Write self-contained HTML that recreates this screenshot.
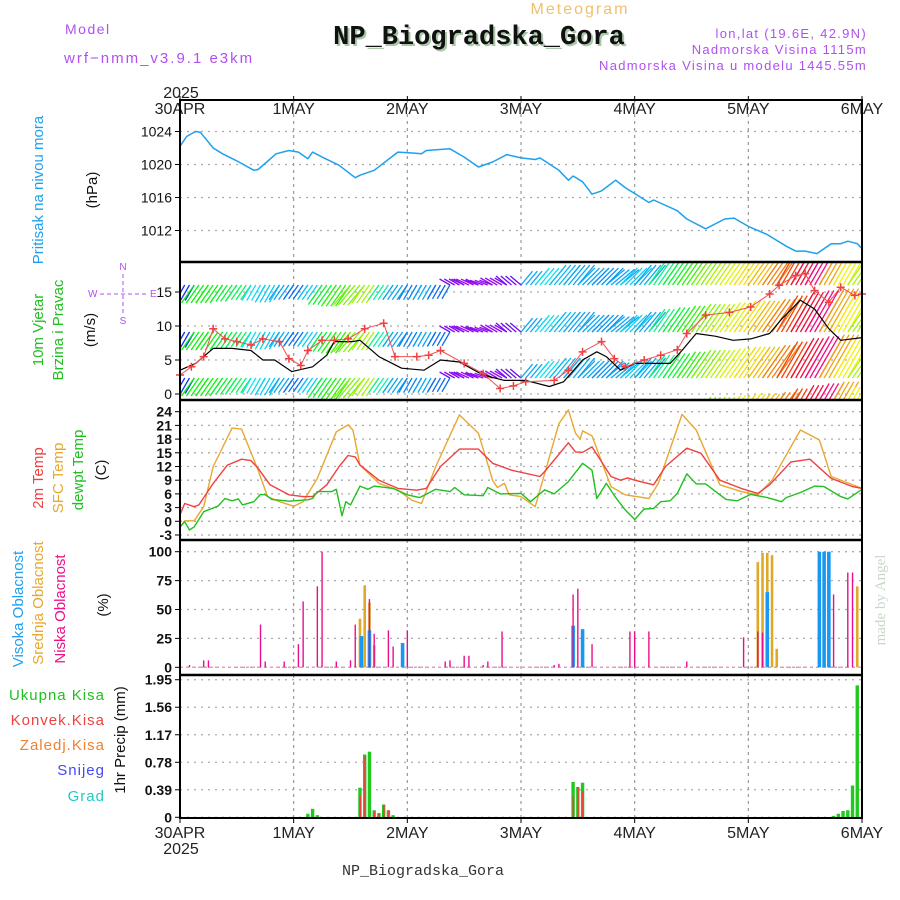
<!DOCTYPE html>
<html><head><meta charset="utf-8"><style>
body{margin:0;background:#fff;}
svg{display:block;font-family:"Liberation Sans",sans-serif;}
</style></head><body>
<svg id="chart" width="900" height="900" viewBox="0 0 900 900" xmlns="http://www.w3.org/2000/svg">
<rect x="0" y="0" width="900" height="900" fill="#fff"/>
<text x="65" y="34" font-size="14" fill="#b050f0" letter-spacing="1.5">Model</text>
<text x="64" y="63" font-size="15" fill="#b050f0" letter-spacing="2">wrf−nmm_v3.9.1 e3km</text>
<text x="580" y="14" font-size="16" fill="#f0c070" text-anchor="middle" letter-spacing="2">Meteogram</text>
<text x="481" y="46" font-size="27" font-weight="bold" fill="#a8c8a8" text-anchor="middle" font-family="Liberation Mono, monospace">NP_Biogradska_Gora</text>
<text x="479" y="44" font-size="27" font-weight="bold" fill="#111" text-anchor="middle" font-family="Liberation Mono, monospace">NP_Biogradska_Gora</text>
<text x="867" y="38" font-size="13" fill="#b050f0" text-anchor="end" letter-spacing="1.3">lon,lat (19.6E, 42.9N)</text>
<text x="867" y="54" font-size="13" fill="#b050f0" text-anchor="end" letter-spacing="1.3">Nadmorska Visina 1115m</text>
<text x="867" y="70" font-size="13" fill="#b050f0" text-anchor="end" letter-spacing="1.3">Nadmorska Visina u modelu 1445.55m</text>
<text x="423" y="875" font-size="15" fill="#333" text-anchor="middle" font-family="Liberation Mono, monospace">NP_Biogradska_Gora</text>
<text transform="translate(885,600) rotate(-90)" font-size="15" fill="#c8d8c8" text-anchor="middle" font-family="Liberation Serif, serif">made by Angel</text>

<text transform="translate(43,190) rotate(-90)" font-size="15" fill="#20a0f0" text-anchor="middle">Pritisak na nivou mora</text>
<text transform="translate(97,190) rotate(-90)" font-size="15" fill="#111" text-anchor="middle">(hPa)</text>
<text transform="translate(43,330) rotate(-90)" font-size="15" fill="#20c020" text-anchor="middle">10m Vjetar</text>
<text transform="translate(63,330) rotate(-90)" font-size="15" fill="#20c020" text-anchor="middle">Brzina i Pravac</text>
<text transform="translate(95,330) rotate(-90)" font-size="15" fill="#111" text-anchor="middle">(m/s)</text>
<g fill="#b050f0" font-size="10" stroke="none">
<text x="123" y="270" text-anchor="middle">N</text>
<text x="88" y="297">W</text>
<text x="150" y="297">E</text>
<text x="123" y="324" text-anchor="middle">S</text>
<line x1="100" y1="294" x2="146" y2="294" stroke="#b050f0" stroke-dasharray="4,3"/>
<line x1="123" y1="274" x2="123" y2="314" stroke="#b050f0" stroke-dasharray="4,3"/>
</g>
<text transform="translate(43,478) rotate(-90)" font-size="15" fill="#f04040" text-anchor="middle">2m Temp</text>
<text transform="translate(63,478) rotate(-90)" font-size="15" fill="#e8a830" text-anchor="middle">SFC Temp</text>
<text transform="translate(83,470) rotate(-90)" font-size="15" fill="#20c020" text-anchor="middle">dewpt Temp</text>
<text transform="translate(106,470) rotate(-90)" font-size="15" fill="#111" text-anchor="middle">(C)</text>
<text transform="translate(23,609) rotate(-90)" font-size="15" fill="#20a0f0" text-anchor="middle">Visoka Oblacnost</text>
<text transform="translate(43,603) rotate(-90)" font-size="15" fill="#e8a830" text-anchor="middle">Srednja Oblacnost</text>
<text transform="translate(65,609) rotate(-90)" font-size="15" fill="#f0108a" text-anchor="middle">Niska Oblacnost</text>
<text transform="translate(108,605) rotate(-90)" font-size="15" fill="#111" text-anchor="middle">(%)</text>
<g font-size="15" text-anchor="end" letter-spacing="1">
<text x="105" y="700" fill="#20c020">Ukupna  Kisa</text>
<text x="105" y="725" fill="#f04040">Konvek.Kisa</text>
<text x="105" y="750" fill="#f08030">Zaledj.Kisa</text>
<text x="105" y="775" fill="#4848f0">Snijeg</text>
<text x="105" y="801" fill="#20c8c8">Grad</text>
</g>
<text transform="translate(125,740) rotate(-90)" font-size="15" fill="#111" text-anchor="middle">1hr Precip (mm)</text>
<g id="plot"></g>
</svg>
<script>
// ---------- data ----------
const dayLabels = ["30APR","1MAY","2MAY","3MAY","4MAY","5MAY","6MAY"];
const presTicks = [1024,1020,1016,1012];
const windTicks = [0,5,10,15];
const tempTicks = [24,21,18,15,12,9,6,3,0,-3];
const cloudTicks = [100,75,50,25,0];
const precipTicks = ["1.95","1.56","1.17","0.78","0.39","0"];

const presHours = [0,1.4,3.3,4.3,7,9,11.8,15.6,16.5,20.3,23,25,27,28,30,33.6,37,38,41,46,49,51,52,57,60,63,66,69,72,75,76,80,82,83,85,87,89,92,94,99,100,105,107,111,115,117,120,124,128,130,132,134.5,137.5,139.5,141,143,144];
const presVals = [1022.2,1023.4,1024,1023.9,1022,1021.3,1020.5,1019.3,1019.4,1021.3,1021.7,1021.5,1020.7,1021.5,1020.9,1019.9,1018.4,1018.7,1019.3,1021.5,1021.4,1021.3,1021.7,1021.9,1020.9,1019.7,1020.3,1021.2,1020.8,1020.6,1020.8,1019.3,1018.1,1018.6,1017.9,1016.4,1016.8,1018.1,1017.2,1015.4,1015.7,1014.4,1013.4,1012.2,1013.4,1013.5,1012.5,1011.5,1010.1,1009.5,1009.5,1009.2,1010.4,1010.4,1010.7,1010.4,1009.8];

const gustHours = [0,2.4,5,7,9.5,12,15,17.5,21,23,25.5,27,30,32.6,35.5,39,43,45.4,50,52.5,55,60,64,67.6,70.4,73,79,82,85,89,91.7,94,98,101.5,105,107,111,116,120.5,124.5,126.5,130,132,134,137,139.5,142.5,144];
const gustVals = [2.8,4,5.5,9.6,8.1,7.7,7.2,8.1,7.7,5.2,4.2,6.4,7.9,7.9,8.1,9.6,10.4,5.5,5.5,5.7,6.4,4.5,3,0.8,1.2,1.8,2,3.5,6.2,7.7,5.2,4,5,5.7,6.5,8.9,11.6,12,12.8,14.7,16,17.4,17.7,15.2,13.5,15.7,14.5,14.7];
const speedHours = [0,3.3,7,11,15,17.5,20,23.6,28,31,32.6,36.4,38,42,46.8,51.5,55,59,64,68.5,73,78,81,85,88,90,93,96,100,103.5,106,109,113,116.8,120.5,124.5,127,131,134,137,139.5,144];
const speedVals = [3.5,4.5,6.7,6.7,6.4,5,5,3.3,4,5.7,7.7,7.7,7.9,5.5,3.8,3.5,5,4.7,2.8,2,2,1.1,1.8,5,6.2,5.5,3.5,4.5,4.5,4.5,6.4,8.9,8.5,7.9,8.1,8.9,11,13.8,12.5,9.6,7.9,8.3];

// wind arrows every 3 h: direction (deg, math convention), length (px), hue
const windAng = [240,235,235,235,235,240,240,235,235,235,235,235,230,235,235,235,240,240,240,150,155,160,150,140,50,50,50,50,45,45,40,45,50,55,55,55,55,55,55,55,55,55,60,60,60,60,60,55,55];
const windLen = [18,22,22,20,18,18,20,18,17,18,24,26,26,22,18,18,17,17,16,12,14,14,14,14,18,22,26,26,24,24,24,24,26,28,30,32,34,34,36,38,38,40,42,46,48,50,44,32,30];
const windHue = [230,120,120,130,140,185,190,200,215,190,130,110,90,80,160,200,210,200,215,270,275,275,275,265,200,185,195,200,200,205,200,190,200,150,130,110,90,75,65,55,45,30,15,350,330,40,60,80,100];

const t2Hours = [0,1,3,4,7,10,13,15,16.5,19,23,26,28,31,33.6,35.5,37,38,42,46,50,52,55,59,63,66,70,76,77,82,83.5,85,87,91,93,94.5,96,100,102.5,107,110,114,118.5,122,124.5,129,133,137.5,142,144];
const t2Vals = [1.4,3.9,3.2,3.6,8.3,12.3,13.6,13.3,11.6,8,5.8,5.4,5.4,8,12,14.4,14.1,12.3,9,7.2,6.8,7.2,12,15.8,15.8,12.7,11.2,9.8,10.9,17.2,15.2,15.1,16.3,9.8,9,9.5,9,8,12,16,14.9,9,7.2,6.1,8,13,13.6,9.4,7.6,7.2];
const sfcHours = [0,1,3,5,7,11,13,16.5,18.5,21,24,26,29,33,35.5,36.5,38,42,46,49,51,54,59,63,66,67,68.5,69.5,72,75,80,82,83.5,84.5,85,87,91,94,99,101,106,109,114,118.5,122,125,131,135,137.5,144];
const sfcVals = [-1.2,0.1,0.1,3.2,12,20.4,20.2,11.2,5.4,4.3,3.3,4.3,9.4,19.6,21.1,20,12.3,8.3,6.8,4.6,3.9,12,23.3,19.3,9,7.4,8.3,5.8,5.4,3.2,21.4,24.4,19.3,18,19.8,18.7,7.6,5.8,5,8.3,23.4,20,8,6.5,5.8,9,20,17.8,9.8,7.2];
const dewHours = [0,1,2,3,5,8,9.5,11,12.3,13.2,15.6,17,18,19.4,23,27,28,29,32,33,34.2,35,36,38,39.7,41,45,48,50.6,54,57,58,60,64,65,67.6,72,74,77,79,82,85,87,88,90,92,94,96,98,100,101.5,103.5,105,107,109,111,114,115.3,117.7,120.5,124,127,128,131,134,136,139.5,141,144];
const dewVals = [-1.3,-0.1,-1.9,-1.2,2.1,3.3,5,4.5,4.9,3.6,4.3,5.9,5.8,4.8,4.4,4.7,5,6.5,6.5,7,1.2,4.3,3.6,7.7,7,7.7,7.2,5.8,5.2,7,6.5,7.4,5.8,5.6,7.4,6,6.1,4.3,6.9,6,8.7,12.7,11.2,5,8.3,5.2,2.5,0.4,2.7,2.8,4.3,4.5,6.1,10.4,8.2,8.2,5.8,4.8,4.5,5.9,5.2,4.3,5.2,6.3,7.7,7.6,5.4,4.9,7];

const lowHours = [2,5,6,17,18,22,25,26,29,30,33,36,37,40,41,44,45,48,56,57,60,61,64,65,68,79,80,83,84,87,95,96,99,107,119,122,123,138,141,142];
const lowVals = [2,6,6,37,5,5,20,57,70,100,5,6,37,59,29,32,18,32,5,6,10,10,2,5,31,2,3,63,68,20,31,31,31,5,26,31,30,63,82,82];
const midHours = [38,39,40,41,47,122,123,124,125,126,143];
const midVals = [42,71,56,19,17,91,99,99,97,16,70];
const highHours = [38.3,40,47,83,85,124,135,136,137];
const highVals = [27,32,21,36,33,65,100,100,100];

const rainHours = [27,28,29,38,39,40,41,42,43,44,45,83,84,85,138,139,140,141,142,143];
const rainVals = [0.05,0.12,0.03,0.42,0.89,0.93,0.1,0.06,0.18,0.1,0.03,0.5,0.43,0.49,0.02,0.05,0.09,0.1,0.45,1.87];
const convHours = [38,39,41,42,43,44,83,84,85];
const convVals = [0.3,0.86,0.08,0.06,0.18,0.1,0.3,0.43,0.37];

// ---------- geometry ----------
const X0=180, X1=862;
const xOf = h => X0 + h*(X1-X0)/144;
const yPres = p => 131.5 + (1024-p)*8.25;
const yWind = v => 394 - v*6.8;
const yTemp = t => 411.7 + (24-t)*(123.3/27);
const yCloud = c => 667.3 - c*1.156;
const yPrecip = p => 817.3 - p*70.55;

const NS="http://www.w3.org/2000/svg";
const plot=document.getElementById('plot');
function mk(tag, attrs, parent){
  const e=document.createElementNS(NS,tag);
  for(const k in attrs) e.setAttribute(k,attrs[k]);
  (parent||plot).appendChild(e); return e;
}
const defs=mk('defs',{});
const cp=mk('clipPath',{id:'windclip'},defs);
mk('rect',{x:X0,y:263,width:X1-X0,height:136},cp);

function hGrid(bold, y0, y1, labels, yfn, name){
  labels.forEach(l=>{
    const y=yfn(parseFloat(l));
    const g=mk('line',{x1:X0,y1:y,x2:X1,y2:y,stroke:'#aaa','stroke-dasharray':'2,5','stroke-width':1.3});
    
    
    mk('line',{x1:X0-5,y1:y,x2:X0,y2:y,stroke:'#000'});
    const t=mk('text',{x:X0-8,y:y+5,'font-size':14,'text-anchor':'end',fill:'#111','font-weight':bold?'bold':'normal'});
    t.textContent=l;
    
    
  });
  for(let d=1; d<6; d++){
    const v=mk('line',{x1:xOf(d*24),y1:y0,x2:xOf(d*24),y2:y1,stroke:'#999','stroke-dasharray':'3,4','stroke-width':1.2});
    
    
  }
}
hGrid(false,100,262,presTicks,yPres,'pressure');
hGrid(false,262,400,windTicks,yWind,'wind');
hGrid(true,400,540,tempTicks,yTemp,'temp');
hGrid(true,540,675,cloudTicks,yCloud,'cloud');
hGrid(true,675,818,precipTicks,yPrecip,'precip');

dayLabels.forEach((d,i)=>{
  const x=xOf(i*24);
  const t=mk('text',{x:x,y:114,'font-size':16,'text-anchor':'middle',fill:'#222'}); t.textContent=d;
  
  
  const b=mk('text',{x:x,y:838,'font-size':16,'text-anchor':'middle',fill:'#222'}); b.textContent=d;
  
  
  mk('line',{x1:x,y1:96,x2:x,y2:100,stroke:'#000'});
  mk('line',{x1:x,y1:818,x2:x,y2:823,stroke:'#000'});
});
const yr1=mk('text',{x:181,y:98,'font-size':16,'text-anchor':'middle',fill:'#222'}); yr1.textContent='2025';


const yr2=mk('text',{x:181,y:854,'font-size':16,'text-anchor':'middle',fill:'#222'}); yr2.textContent='2025';



function polyline(hours, vals, yfn, color, name, w){
  const pts=hours.map((h,i)=>xOf(h).toFixed(1)+','+yfn(vals[i]).toFixed(1)).join(' ');
  const p=mk('polyline',{points:pts,fill:'none',stroke:color,'stroke-width':w||1.4,'stroke-linejoin':'round'});
  
  
  return p;
}

polyline(presHours,presVals,yPres,'#1ea0f0','pressure-line',1.5);

const wg=mk('g',{'clip-path':'url(#windclip)'});


const bases=[238,285,332,378,425];
windAng.forEach((a,i)=>{
  const rad=a*Math.PI/180, L=windLen[i];
  const dx=Math.cos(rad)*L, dy=-Math.sin(rad)*L;
  const col='hsl('+windHue[i]+',90%,50%)';
  for(let k=0;k<4;k++){
    const h=i*3+k; if(h>144) break;
    const x=xOf(h);
    bases.forEach(b=>{
      const ln=mk('line',{x1:x,y1:b,x2:x+dx,y2:b+dy,stroke:col,'stroke-width':1.3},wg);
      
      
    });
  }
});
polyline(speedHours,speedVals,yWind,'#000','wind-speed-line',1.2);
polyline(gustHours,gustVals,yWind,'#f05050','wind-gust-line',1);
gustHours.forEach((h,i)=>{
  const x=xOf(h), y=yWind(gustVals[i]);
  const c=mk('path',{d:`M${x-4},${y}H${x+4}M${x},${y-4}V${y+4}`,stroke:'#f04040','stroke-width':1.5});
  
  
});

polyline(sfcHours,sfcVals,yTemp,'#e8a830','sfc-temp-line',1.4);
polyline(t2Hours,t2Vals,yTemp,'#f04040','temp-2m-line',1.4);
polyline(dewHours,dewVals,yTemp,'#20c020','dewpoint-line',1.4);

const base0=mk('line',{x1:X0,y1:yCloud(0),x2:X1,y2:yCloud(0),stroke:'#e0a0c0','stroke-dasharray':'3,3','stroke-width':1.5});


function bars(hours, vals, yfn, y0, color, w, off, name){
  hours.forEach((h,i)=>{
    const y=yfn(vals[i]);
    const r=mk('rect',{x:xOf(h)+off,y:y,width:w,height:Math.max(0,y0-y),fill:color});
    
    
  });
}
bars(midHours,midVals,yCloud,yCloud(0),'#e0a828',2.6,-1.3,'cloud-mid-bar');
bars(highHours,highVals,yCloud,yCloud(0),'#1898f0',3.6,-1.8,'cloud-high-bar');
bars(lowHours,lowVals,yCloud,yCloud(0),'#e8108a',1.4,-0.7,'cloud-low-bar');

bars(rainHours,rainVals,yPrecip,yPrecip(0),'#20c820',3.4,-1.7,'precip-total-bar');
bars(convHours,convVals,yPrecip,yPrecip(0),'#f04040',1.6,-0.6,'precip-convective-bar');

mk('rect',{x:X0,y:100,width:X1-X0,height:718,fill:'none',stroke:'#000','stroke-width':2});
[262,400,540,675].forEach(y=>{
  const s=mk('line',{x1:X0,y1:y,x2:X1,y2:y,stroke:'#000','stroke-width':2.5});
  
  
});
</script>
</body></html>
